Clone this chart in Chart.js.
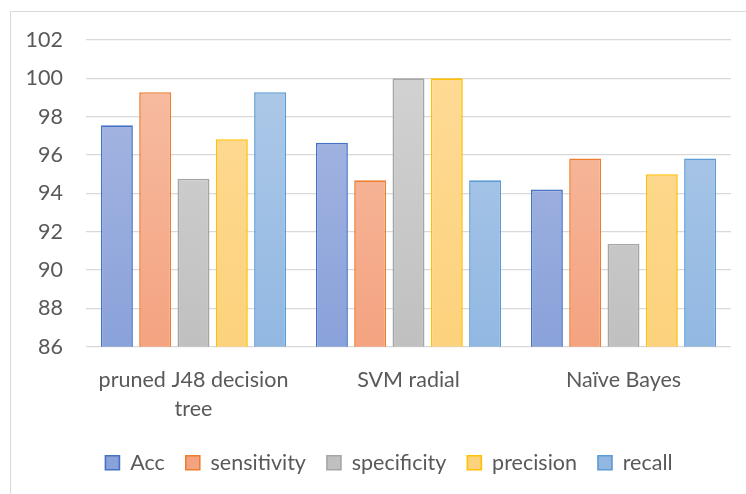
<!DOCTYPE html>
<html><head><meta charset="utf-8">
<script src="https://cdn.jsdelivr.net/npm/chart.js@4"></script>
<style>
html,body{margin:0;padding:0;background:#fff;width:746px;height:494px;overflow:hidden}
#frame{position:absolute;left:10px;top:11px;width:800px;height:600px;border:1.3px solid #d9d9d9;box-sizing:border-box}
#wrap{position:absolute;left:0;top:0;width:746px;height:494px}
</style></head>
<body>
<div id="frame"></div>
<div id="wrap"><canvas id="c" width="746" height="494"></canvas></div>
<script>
const categories = [['pruned J48 decision', 'tree'], 'SVM radial', 'Naïve Bayes'];
const seriesNames = ['Acc', 'sensitivity', 'specificity', 'precision', 'recall'];
const accValues = [97.55, 96.64, 94.2];
const sensitivityValues = [99.28, 94.68, 95.82];
const specificityValues = [94.77, 100, 91.36];
const precisionValues = [96.83, 100, 95.0];
const recallValues = [99.28, 94.68, 95.82];
const yMin = 86, yMax = 102, yStep = 2;

const styles = [
  {border: '#4472c4', top: '#aab9e2', bottom: '#8aa2da'},
  {border: '#ed7d31', top: '#f7bfa6', bottom: '#f4a380'},
  {border: '#a5a5a5', top: '#d4d4d4', bottom: '#c0c0c0'},
  {border: '#ffc000', top: '#fedb98', bottom: '#fdd27c'},
  {border: '#5b9bd5', top: '#b1cbe9', bottom: '#92b8e2'}
];
const seriesValues = [accValues, sensitivityValues, specificityValues, precisionValues, recallValues];

function gradFor(s) {
  return function(ctx) {
    const chart = ctx.chart;
    const area = chart.chartArea;
    if (!area) return s.top;
    const g = chart.ctx.createLinearGradient(0, area.top, 0, area.bottom);
    g.addColorStop(0, s.top);
    g.addColorStop(1, s.bottom);
    return g;
  };
}

// shift the legend's horizontal span so it centres like the original
const legendShift = {
  id: 'legendShift',
  afterLayout(chart) {
    const lg = chart.legend;
    if (lg) { lg.left = 47; lg.right = chart.chartArea.right; }
  }
};

Chart.defaults.font.family = 'Lato';
Chart.defaults.color = '#595959';

new Chart(document.getElementById('c'), {
  type: 'bar',
  data: {
    labels: categories,
    datasets: seriesNames.map((n, i) => ({
      label: n,
      data: seriesValues[i],
      backgroundColor: gradFor(styles[i]),
      borderColor: styles[i].border,
      borderWidth: 1.6,
      categoryPercentage: 0.891,
      barPercentage: 0.835
    }))
  },
  plugins: [legendShift],
  options: {
    responsive: false,
    animation: false,
    layout: {padding: {left: 12, right: 15, top: 40, bottom: 10.5}},
    plugins: {
      tooltip: {enabled: false},
      legend: {
        position: 'bottom',
        labels: {
          font: {size: 21.5},
          color: '#595959',
          boxWidth: 14,
          boxHeight: 14,
          padding: 21
        }
      }
    },
    scales: {
      x: {
        grid: {display: false, drawTicks: false},
        border: {display: false},
        ticks: {font: {size: 21.5, lineHeight: '29px'}, color: '#595959', padding: 19, maxRotation: 0, autoSkip: false},
        afterFit: (s) => { s.height = 84.2; }
      },
      y: {
        min: yMin, max: yMax,
        ticks: {stepSize: yStep, font: {size: 21.5}, color: '#595959', padding: 23},
        grid: {color: '#d9d9d9', lineWidth: 1.3, drawTicks: false},
        border: {display: false},
        afterFit: (s) => { s.width = 74; }
      }
    }
  }
});
</script>
</body></html>
